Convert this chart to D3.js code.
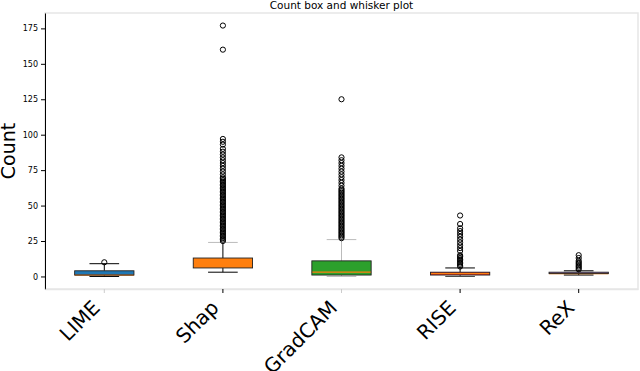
<!DOCTYPE html>
<html>
<head>
<meta charset="utf-8">
<script src="https://cdn.jsdelivr.net/npm/d3@7"></script>
<style>
  body { margin: 0; background: #fff; }
  text { font-family: "DejaVu Sans", sans-serif; }
</style>
</head>
<body>
<div id="vis"></div>
<script>
// data
const categories = ["LIME", "Shap", "GradCAM", "RISE", "ReX"]
const q1s = [1, 6, 1, 1, 2]
const medians = [1, 9, 3, 2, 2]
const q3s = [4, 13, 11, 3, 3]
const whiskerLo = [0, 3, 0, 0, 1]
const whiskerHi = [9, 24, 26, 6, 4]
const outlierLIME = [10]
const outlierShap = [25,26,27,28,29,30,31,32,33,34,35,36,37,38,39,40,41,42,43,44,45,46,47,48,49,50,
  51,52,53,54,55,56,57,58,59,60,61,62,63,64,65,66,67,68,69,70,72,74,76,78,80,82,84,86,88,90,93,95,97,160,177]
const outlierGradCAM = [27,28,29,30,31,32,33,34,35,36,37,38,39,40,41,42,43,44,45,46,47,48,49,50,
  51,52,53,54,55,56,57,58,59,60,61,62,64,66,68,70,72,74,76,78,80,82,84,125]
const outlierRISE = [7,8,9,10,11,12,13,14,15,18,20,22,24,26,28,30,32,34,37,43]
const outlierReX = [5,6,7,8,9,10,11,13,15]
const outliers = [outlierLIME, outlierShap, outlierGradCAM, outlierRISE, outlierReX]
const yTicks = [0, 25, 50, 75, 100, 125, 150, 175]

// styles
const boxColors = ["#1f77b4", "#ff7f0e", "#2ca02c", "#d62728", "#9467bd"]
const upperWhiskerColor = ["#000", "#000", "#bbb", "#000", "#000"]
const upperCapColor = ["#000", "#bbb", "#bbb", "#000", "#000"]
const lowerColor = ["#000", "#000", "#bbb", "#444", "#000"]
const xTickColor = ["#ccc", "#000", "#ccc", "#000", "#000"]

let width = 640, height = 371
let margin = {top: 13, right: 2, bottom: 82, left: 45}

let svg = d3.select("#vis")
  .append("svg")
  .attr("width", width)
  .attr("height", height)

let rows = categories.map((c, i) => ({
  name: c, q1: q1s[i], med: medians[i], q3: q3s[i],
  lo: whiskerLo[i], hi: whiskerHi[i], out: outliers[i], i: i
}))

let allVals = rows.flatMap(d => [d.lo, d.hi, ...d.out])
let ext = d3.extent(allVals)
let pad = (ext[1] - ext[0]) * 0.05

let xScale = d3.scaleBand()
  .domain(categories)
  .range([margin.left, width - margin.right])
  .padding(0)

let yScale = d3.scaleLinear()
  .domain([ext[0] - pad, ext[1] + pad])
  .range([height - margin.bottom, margin.top])

let bw = xScale.bandwidth() * 0.5
let cx = d => xScale(d.name) + xScale.bandwidth() / 2

// frame (light top / right)
svg.append("rect")
  .attr("x", margin.left)
  .attr("y", margin.top)
  .attr("width", width - margin.right - margin.left)
  .attr("height", height - margin.bottom - margin.top)
  .attr("fill", "none")
  .attr("stroke", "#e6e6e6")
  .attr("stroke-width", 1.5)

// title
svg.append("text")
  .attr("x", (margin.left + width - margin.right) / 2)
  .attr("y", 9)
  .attr("text-anchor", "middle")
  .attr("font-size", "10.5px")
  .text("Count box and whisker plot")

// y axis
let yAxis = svg.append("g")
  .attr("transform", `translate(${margin.left},0)`)
  .call(d3.axisLeft(yScale).tickValues(yTicks).tickSize(4).tickSizeOuter(0).tickPadding(3))
yAxis.selectAll("text").attr("font-size", "8px").attr("font-family", "DejaVu Sans")
yAxis.select(".domain").attr("stroke", "#000")

svg.append("text")
  .attr("transform", `translate(15,${(margin.top + height - margin.bottom) / 2}) rotate(-90)`)
  .attr("text-anchor", "middle")
  .attr("font-size", "19px")
  .text("Count")

// x axis
let xAxis = svg.append("g")
  .attr("transform", `translate(0,${height - margin.bottom})`)
  .call(d3.axisBottom(xScale).tickSize(4).tickSizeOuter(0))
xAxis.select(".domain").attr("stroke", "#e6e6e6").attr("stroke-width", 1.5)
xAxis.selectAll(".tick line").attr("stroke", (d, i) => xTickColor[i])
xAxis.selectAll(".tick text")
  .attr("font-size", "20px")
  .attr("font-family", "DejaVu Sans")
  .attr("text-anchor", "end")
  .attr("dy", null)
  .attr("y", null)
  .attr("transform", "translate(-3,20) rotate(-45)")

let g = svg.selectAll(".box")
  .data(rows)
  .join("g")
  .attr("class", "box")

// whiskers
g.append("line")
  .attr("x1", cx).attr("x2", cx)
  .attr("y1", d => yScale(d.q3)).attr("y2", d => yScale(d.hi))
  .attr("stroke", d => upperWhiskerColor[d.i])
g.append("line")
  .attr("x1", cx).attr("x2", cx)
  .attr("y1", d => yScale(d.q1)).attr("y2", d => yScale(d.lo))
  .attr("stroke", d => lowerColor[d.i])
// caps
g.append("line")
  .attr("x1", d => cx(d) - bw / 4).attr("x2", d => cx(d) + bw / 4)
  .attr("y1", d => yScale(d.hi)).attr("y2", d => yScale(d.hi))
  .attr("stroke", d => upperCapColor[d.i])
g.append("line")
  .attr("x1", d => cx(d) - bw / 4).attr("x2", d => cx(d) + bw / 4)
  .attr("y1", d => yScale(d.lo)).attr("y2", d => yScale(d.lo))
  .attr("stroke", d => lowerColor[d.i])

// boxes
g.append("rect")
  .attr("x", d => cx(d) - bw / 2)
  .attr("y", d => yScale(d.q3))
  .attr("width", bw)
  .attr("height", d => Math.max(1, yScale(d.q1) - yScale(d.q3)))
  .attr("fill", d => boxColors[d.i])
// medians
g.append("line")
  .attr("x1", d => cx(d) - bw / 2).attr("x2", d => cx(d) + bw / 2)
  .attr("y1", d => yScale(d.med)).attr("y2", d => yScale(d.med))
  .attr("stroke", "#ff7f0e")
  .attr("stroke-width", 1.2)
g.append("rect")
  .attr("x", d => cx(d) - bw / 2)
  .attr("y", d => yScale(d.q3))
  .attr("width", bw)
  .attr("height", d => Math.max(1, yScale(d.q1) - yScale(d.q3)))
  .attr("fill", "none")
  .attr("stroke", "#222")
  .attr("stroke-width", 0.9)

// fliers
g.selectAll("circle")
  .data(d => d.out.map(v => ({v: v, x: cx(d)})))
  .join("circle")
  .attr("cx", d => d.x)
  .attr("cy", d => yScale(d.v))
  .attr("r", 2.6)
  .attr("fill", "none")
  .attr("stroke", "#000")
  .attr("stroke-width", 1)
</script>
</body>
</html>
